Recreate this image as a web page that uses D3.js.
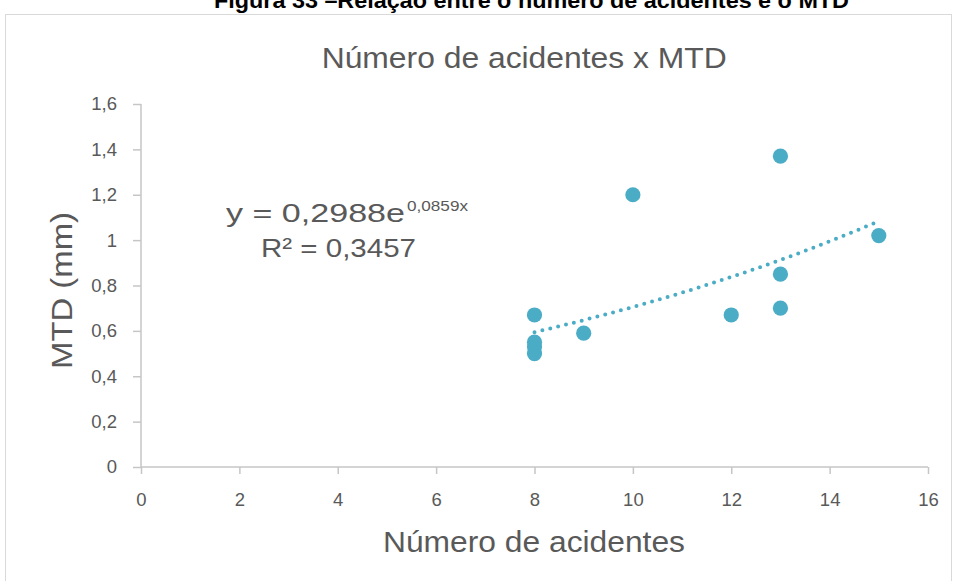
<!DOCTYPE html>
<html><head><meta charset="utf-8">
<script src="https://cdn.jsdelivr.net/npm/d3@7"></script>
<style>body{margin:0;background:#fff}svg{display:block}text{font-family:"Liberation Sans",Arial,sans-serif}</style>
</head><body><svg id="c" width="953" height="581"></svg>
<script>
const accidents = [8, 8, 8, 8, 9, 10, 12, 13, 13, 13, 15];
const mtd = [0.67, 0.55, 0.53, 0.50, 0.59, 1.20, 0.67, 1.37, 0.85, 0.70, 1.02];
const xTicks = [0, 2, 4, 6, 8, 10, 12, 14, 16];
const yTicks = [0, 0.2, 0.4, 0.6, 0.8, 1, 1.2, 1.4, 1.6];
const trendA = 0.2988, trendB = 0.0859, rSquared = 0.3457;
const fmt = v => String(v).replace('.', ',');

const svg = d3.select('#c');
const grey = '#595959', axisCol = '#C6C6C6', col = '#4BACC6';

svg.append('rect').attr('x', 5.5).attr('y', 14.5).attr('width', 946).attr('height', 570)
  .attr('fill', '#fff').attr('stroke', '#D9D9D9');

svg.append('text').attr('x', 214).attr('y', 8)
  .attr('font-size', 22).attr('font-weight', 'bold').attr('fill', '#000')
  .attr('textLength', 635).attr('lengthAdjust', 'spacingAndGlyphs')
  .text('Figura 33 –Relação entre o número de acidentes e o MTD');

const x = d3.scaleLinear().domain([0, 16]).range([141, 928]);
const y = d3.scaleLinear().domain([0, 1.6]).range([467, 104]);

const xa = svg.append('g').attr('transform', 'translate(0,467)')
  .call(d3.axisBottom(x).tickValues(xTicks).tickSize(7).tickPadding(19).tickFormat(fmt));
const ya = svg.append('g').attr('transform', 'translate(141,0)')
  .call(d3.axisLeft(y).tickValues(yTicks).tickSize(8).tickPadding(16).tickFormat(fmt));
[xa, ya].forEach(a => {
  a.selectAll('path,line').attr('stroke', axisCol).attr('stroke-width', 1.5);
  a.selectAll('text').attr('fill', grey).attr('font-size', 18.5)
    .attr('font-family', '"Liberation Sans",Arial,sans-serif');
});
ya.select('.domain').attr('d', 'M0,' + y(1.6) + 'V' + y(0));
xa.select('.domain').attr('d', 'M' + x(0) + ',0H' + x(16));

svg.append('text').attr('x', 321.7).attr('y', 68.3)
  .attr('font-size', 29).attr('fill', grey)
  .attr('textLength', 405).attr('lengthAdjust', 'spacingAndGlyphs')
  .text('Número de acidentes x MTD');
svg.append('text').attr('x', 383).attr('y', 551.7)
  .attr('font-size', 30).attr('fill', grey)
  .attr('textLength', 302).attr('lengthAdjust', 'spacingAndGlyphs')
  .text('Número de acidentes');
svg.append('text').attr('transform', 'translate(72,369) rotate(-90)')
  .attr('font-size', 30).attr('fill', grey)
  .attr('textLength', 157).attr('lengthAdjust', 'spacingAndGlyphs')
  .text('MTD (mm)');

const tx = d3.range(8, 15.0001, 0.1);
svg.append('path').datum(tx)
  .attr('d', d3.line().x(d => x(d)).y(d => y(trendA * Math.exp(trendB * d))))
  .attr('fill', 'none').attr('stroke', col).attr('stroke-width', 4)
  .attr('stroke-linecap', 'round').attr('stroke-dasharray', '0 8.1');

svg.append('g').selectAll('circle').data(accidents).join('circle')
  .attr('cx', d => x(d)).attr('cy', (d, i) => y(mtd[i])).attr('r', 7.6).attr('fill', col);

svg.append('text').attr('x', 226).attr('y', 222).attr('font-size', 26.5).attr('fill', grey)
  .attr('textLength', 179).attr('lengthAdjust', 'spacingAndGlyphs')
  .text('y = ' + fmt(trendA) + 'e');
svg.append('text').attr('x', 407).attr('y', 210.5).attr('font-size', 15.5).attr('fill', grey)
  .attr('textLength', 61).attr('lengthAdjust', 'spacingAndGlyphs')
  .text(fmt(trendB) + 'x');
svg.append('text').attr('x', 261).attr('y', 257).attr('font-size', 26.5).attr('fill', grey)
  .attr('textLength', 155).attr('lengthAdjust', 'spacingAndGlyphs')
  .text('R² = ' + fmt(rSquared));
</script></body></html>
